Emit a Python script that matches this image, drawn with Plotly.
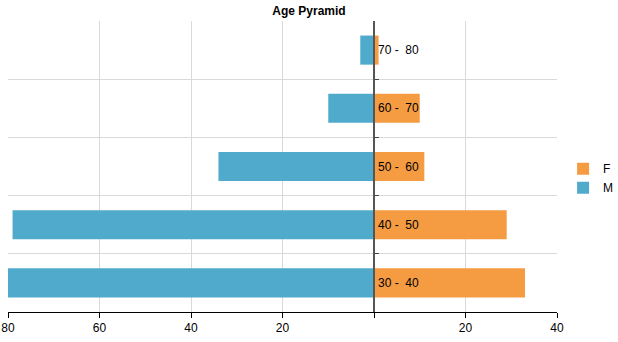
import plotly.graph_objects as go

# Age groups, youngest at the bottom
age_groups = ["30 - 40", "40 - 50", "50 - 60", "60 - 70", "70 - 80"]
female = [33, 29, 11, 10, 1]
male = [80, 79, 34, 10, 3]

x_ticks = [-80, -60, -40, -20, 0, 20, 40]
x_tick_text = ["80", "60", "40", "20", "", "20", "40"]

ORANGE = "#F59B42"
BLUE = "#4FAACC"

x_min, x_max = -80, 40
domain_right = (557 - 8) / (618 - 8)
zero_pos = domain_right * (0 - x_min) / (x_max - x_min)

fig = go.Figure()
fig.add_trace(go.Bar(
    y=age_groups, x=female, name="F", orientation="h",
    marker=dict(color=ORANGE, line=dict(width=0)), width=0.5,
))
fig.add_trace(go.Bar(
    y=age_groups, x=[-v for v in male], name="M", orientation="h",
    marker=dict(color=BLUE, line=dict(width=0)), width=0.5,
))

# Group labels beside the centre line
for g in age_groups:
    fig.add_annotation(
        x=0, y=g, text=g.replace(" - ", " -&nbsp; "), showarrow=False,
        xanchor="left", xshift=2, yanchor="middle",
        font=dict(family="Liberation Sans, Arial, sans-serif", size=12, color="#000"),
    )

fig.update_layout(
    width=618, height=342,
    margin=dict(l=8, r=0, t=21, b=30, autoexpand=False),
    barmode="relative",
    paper_bgcolor="white", plot_bgcolor="white",
    font=dict(family="Liberation Sans, Arial, sans-serif", size=12, color="#000"),
    title=dict(text="<b>Age Pyramid</b>", x=0.5, xref="container", xanchor="center",
               y=1 - 11 / 342, yanchor="middle",
               font=dict(size=12, color="#000")),
    showlegend=True,
    legend=dict(x=0.91, y=0.46, xanchor="left", yanchor="middle",
                traceorder="normal", font=dict(size=12),
                itemwidth=30, tracegroupgap=0, bgcolor="rgba(0,0,0,0)"),
    xaxis=dict(
        domain=[0, domain_right], range=[x_min, x_max],
        tickvals=x_ticks, ticktext=x_tick_text,
        showgrid=True, gridcolor="#d9d9d9", gridwidth=1,
        zeroline=False, showline=True, linecolor="#000", linewidth=1,
        ticks="outside", ticklen=5, tickcolor="#000",
        fixedrange=True,
    ),
    yaxis=dict(
        type="category", categoryorder="array", categoryarray=age_groups,
        range=[-0.5, 4.5], anchor="free", position=zero_pos,
        showgrid=True, gridcolor="#d9d9d9", gridwidth=1,
        tickson="boundaries", ticks="inside", ticklen=4, tickcolor="#444",
        showticklabels=False, showline=True, linecolor="#555", linewidth=2,
        zeroline=False, fixedrange=True,
    ),
)

fig.write_html("out.html")
